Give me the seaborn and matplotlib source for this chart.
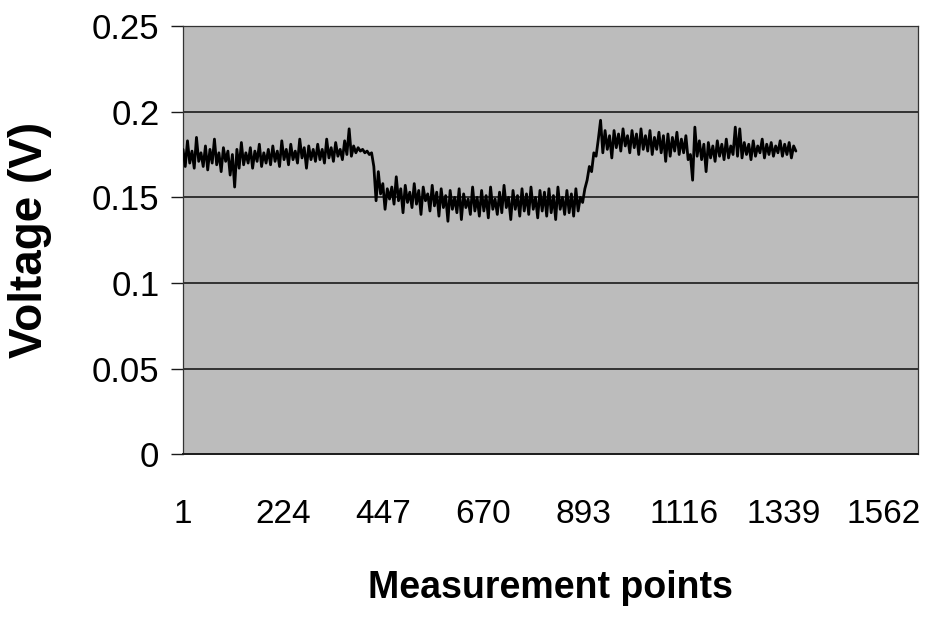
import numpy as np
import pandas as pd
import matplotlib
matplotlib.use("Agg")
import matplotlib.pyplot as plt
import seaborn as sns

# Sampled voltage trace (every 5th measurement point), in volts
first_level = [
    0.178, 0.168, 0.183, 0.170, 0.177, 0.167, 0.185, 0.171, 0.176, 0.168,
    0.180, 0.166, 0.178, 0.170, 0.184, 0.169, 0.176, 0.165, 0.179, 0.171,
    0.177, 0.163, 0.175, 0.156, 0.178, 0.167, 0.182, 0.169, 0.176, 0.170,
    0.179, 0.167, 0.177, 0.171, 0.181, 0.168, 0.176, 0.170, 0.178, 0.169,
    0.180, 0.171, 0.177, 0.168, 0.183, 0.172, 0.178, 0.169, 0.181, 0.172,
    0.177, 0.170, 0.184, 0.173, 0.179, 0.167, 0.180, 0.172, 0.178, 0.171,
    0.181, 0.172, 0.178, 0.170, 0.184, 0.173, 0.179, 0.171, 0.182, 0.174,
    0.178, 0.172, 0.183, 0.175, 0.190, 0.174, 0.180, 0.176, 0.179, 0.177,
    0.178, 0.176, 0.177, 0.175, 0.176,
]
falling_edge = [0.168, 0.148, 0.165, 0.152, 0.158, 0.143, 0.155, 0.149]
second_level = [
    0.156, 0.146, 0.162, 0.148, 0.155, 0.141, 0.157, 0.147, 0.153, 0.144,
    0.158, 0.146, 0.154, 0.140, 0.156, 0.148, 0.152, 0.142, 0.157, 0.145,
    0.153, 0.139, 0.155, 0.144, 0.151, 0.136, 0.154, 0.143, 0.150, 0.141,
    0.155, 0.137, 0.152, 0.144, 0.149, 0.140, 0.156, 0.142, 0.150, 0.139,
    0.154, 0.142, 0.151, 0.138, 0.156, 0.143, 0.149, 0.140, 0.153, 0.141,
    0.157, 0.144, 0.150, 0.137, 0.154, 0.143, 0.151, 0.139, 0.155, 0.142,
    0.152, 0.140, 0.156, 0.143, 0.150, 0.138, 0.154, 0.142, 0.153, 0.139,
    0.155, 0.141, 0.151, 0.137, 0.156, 0.143, 0.150, 0.140, 0.154, 0.141,
    0.152, 0.139, 0.155, 0.142, 0.150,
]
rising_edge = [0.147, 0.155, 0.160, 0.168, 0.165, 0.176, 0.174, 0.184]
third_level = [
    0.195, 0.176, 0.189, 0.178, 0.186, 0.173, 0.189, 0.179, 0.187, 0.177,
    0.190, 0.180, 0.186, 0.176, 0.189, 0.179, 0.187, 0.175, 0.190, 0.178,
    0.186, 0.177, 0.189, 0.175, 0.185, 0.178, 0.188, 0.176, 0.186, 0.171,
    0.187, 0.174, 0.185, 0.177, 0.188, 0.175, 0.184, 0.176, 0.186, 0.172,
    0.175, 0.160, 0.191, 0.174, 0.183, 0.172, 0.181, 0.165, 0.182, 0.173,
    0.180, 0.171, 0.183, 0.174, 0.181, 0.172, 0.184, 0.173, 0.180, 0.175,
    0.191, 0.174, 0.190, 0.173, 0.182, 0.175, 0.181, 0.172, 0.183, 0.174,
    0.180, 0.176, 0.184, 0.173, 0.181, 0.175, 0.182, 0.174, 0.180, 0.176,
    0.183, 0.174, 0.181, 0.175, 0.182, 0.173, 0.180, 0.177,
]

voltage = first_level + falling_edge + second_level + rising_edge + third_level
sample_step = 5
points = np.arange(len(voltage)) * sample_step + 1

x_ticks = [1, 224, 447, 670, 893, 1116, 1339, 1562]
y_ticks = [0, 0.05, 0.1, 0.15, 0.2, 0.25]
y_tick_labels = ["0", "0.05", "0.1", "0.15", "0.2", "0.25"]

df = pd.DataFrame({"point": points, "voltage": voltage})

sns.set_style("white")
plt.rcParams["font.family"] = ["Liberation Sans", "DejaVu Sans"]
plt.rcParams["text.color"] = "black"
plt.rcParams["axes.labelcolor"] = "black"
plt.rcParams["xtick.color"] = "black"
plt.rcParams["ytick.color"] = "black"

fig = plt.figure(figsize=(9.38, 6.19), dpi=100)
ax = fig.add_axes([0.1951, 0.2664, 0.9787 - 0.1951, 0.9578 - 0.2664])
ax.set_facecolor("#bcbcbc")

sns.lineplot(data=df, x="point", y="voltage", ax=ax, color="black",
             linewidth=2.0, zorder=3)

ax.set_xlim(1, 1638)
ax.set_ylim(0, 0.25)
ax.set_yticks(y_ticks)
ax.set_yticklabels(y_tick_labels)
ax.set_xticks(x_ticks)
ax.set_xticklabels([str(t) for t in x_ticks])

for y in y_ticks[1:]:
    ax.axhline(y, color="#1a1a1a", linewidth=1.2, zorder=2)

for side in ["left", "right", "top"]:
    ax.spines[side].set_color("#333333")
    ax.spines[side].set_linewidth(0.9)
ax.spines["bottom"].set_color("#1a1a1a")
ax.spines["bottom"].set_linewidth(1.4)

ax.tick_params(axis="y", direction="out", length=9, width=1.0,
               color="#1a1a1a", pad=8, labelsize=25, left=True)
ax.tick_params(axis="x", length=0, pad=32, labelsize=24)

ax.set_xlabel("Measurement points", fontsize=27, fontweight="bold")
ax.set_ylabel("Voltage (V)", fontsize=33, fontweight="bold")
ax.xaxis.set_label_coords(0.5, -0.27)
ax.yaxis.set_label_coords(-0.178, 0.5)

fig.savefig("out.png", dpi=100)
